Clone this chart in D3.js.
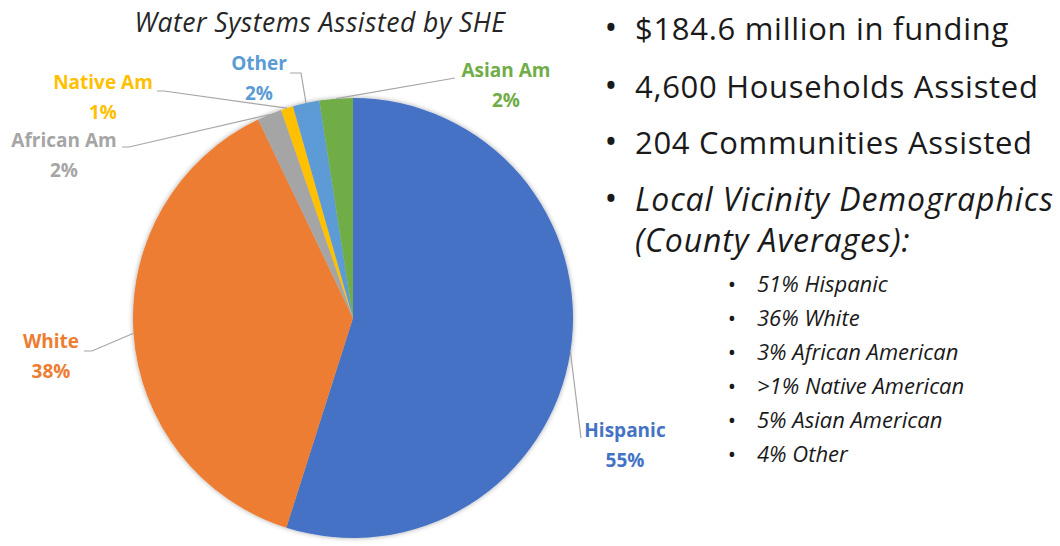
<!DOCTYPE html>
<html>
<head>
<meta charset="utf-8">
<script src="https://cdn.jsdelivr.net/npm/d3@7"></script>
<style>
  html, body { margin: 0; padding: 0; background: #fff; }
  svg { display: block; }
</style>
</head>
<body>
<div id="chart"></div>
<script>
// --- Data ---
const categories = ["Hispanic", "White", "African Am", "Native Am", "Other", "Asian Am"];
const shares = [54.9, 38.0, 1.8, 0.9, 1.95, 2.45]; // percent of water systems
const sliceColors = ["#4472C4", "#ED7D31", "#A5A5A5", "#FFC000", "#5B9BD5", "#70AD47"];

const title = "Water Systems Assisted by SHE";
const keyFacts = ["$184.6 million in funding", "4,600 Households Assisted", "204 Communities Assisted"];
const vicinityHeading = ["Local Vicinity Demographics", "(County Averages):"];
const countyDemographics = ["51% Hispanic", "36% White", "3% African American",
                            ">1% Native American", "5% Asian American", "4% Other"];

// --- Layout ---
const width = 1060, height = 546;
const cx = 353, cy = 318, radius = 220;
const font = "'Open Sans', Lato, sans-serif";

// where each data label sits (baseline of first line) and where its leader line starts
const labelLayout = {
  "Hispanic":   {x: 625, y: 437, pts: [[581, 438]]},
  "White":      {x: 51,  y: 348, pts: [[84, 351], [92, 351]]},
  "African Am": {x: 64,  y: 147, pts: [[122, 147], [129, 147]]},
  "Native Am":  {x: 103, y: 89,  pts: [[157, 91], [164, 91]]},
  "Other":      {x: 259, y: 70,  pts: [[290, 73], [301, 73]]},
  "Asian Am":   {x: 506, y: 77,  pts: [[455, 78]]}
};

const data = categories.map((c, i) => ({name: c, share: shares[i], color: sliceColors[i]}));

const svg = d3.select("#chart").append("svg")
    .attr("width", width)
    .attr("height", height);

// soft outer shadow like the original
const defs = svg.append("defs");
const f = defs.append("filter").attr("id", "shadow")
    .attr("x", "-10%").attr("y", "-10%").attr("width", "120%").attr("height", "120%");
f.append("feDropShadow").attr("dx", 0).attr("dy", 0).attr("stdDeviation", 2.5)
    .attr("flood-color", "#000").attr("flood-opacity", 0.35);

// title
svg.append("text")
    .attr("x", 320).attr("y", 32)
    .attr("text-anchor", "middle")
    .attr("font-family", font)
    .attr("font-style", "italic")
    .attr("font-size", "26.5px")
    .attr("letter-spacing", "0.5px")
    .attr("fill", "#262626")
    .text(title);

// pie
const pie = d3.pie().sort(null).value(d => d.share);
const arc = d3.arc().innerRadius(0).outerRadius(radius);
const edgeArc = d3.arc().innerRadius(radius).outerRadius(radius);
const arcs = pie(data);

const g = svg.append("g").attr("transform", `translate(${cx},${cy})`);
g.append("g").attr("filter", "url(#shadow)")
  .selectAll("path")
  .data(arcs)
  .enter().append("path")
    .attr("d", arc)
    .attr("fill", d => d.data.color);

// leader lines: from label to the middle of the slice's outer edge
arcs.forEach(d => {
    const lay = labelLayout[d.data.name];
    const c = edgeArc.centroid(d);
    const pts = lay.pts.concat([[c[0] + cx, c[1] + cy]]);
    svg.append("path")
        .attr("d", d3.line()(pts))
        .attr("fill", "none")
        .attr("stroke", "#A6A6A6")
        .attr("stroke-width", 1.2);
});

// data labels
arcs.forEach(d => {
    const lay = labelLayout[d.data.name];
    const t = svg.append("text")
        .attr("text-anchor", "middle")
        .attr("font-family", font)
        .attr("font-weight", "bold")
        .attr("font-size", "19px")
        .attr("fill", d.data.color);
    t.append("tspan").attr("x", lay.x).attr("y", lay.y).text(d.data.name);
    t.append("tspan").attr("x", lay.x).attr("y", lay.y + 30).text(Math.round(d.data.share) + "%");
});

// --- Right-hand bullet list ---
const bulletX = 611, textX = 635;
const mainBaselines = [40, 98, 154];

function bullet(x, y, size) {
    svg.append("text").attr("x", x).attr("y", y)
        .attr("text-anchor", "middle").attr("font-family", font)
        .attr("font-size", size).attr("fill", "#1a1a1a").text("\u2022");
}

keyFacts.forEach((s, i) => {
    bullet(bulletX, mainBaselines[i], "34px");
    svg.append("text").attr("x", textX).attr("y", mainBaselines[i])
        .attr("font-family", font).attr("font-size", "31px")
        .attr("letter-spacing", "0.7px")
        .attr("fill", "#1a1a1a").text(s);
});

bullet(bulletX, 211, "34px");
vicinityHeading.forEach((s, i) => {
    svg.append("text").attr("x", textX).attr("y", 211 + i * 41)
        .attr("font-family", font).attr("font-style", "italic")
        .attr("font-size", "32px").attr("letter-spacing", "0.9px")
        .attr("fill", "#1a1a1a").text(s);
});

// sub bullets
const subBulletX = 732, subTextX = 757;
countyDemographics.forEach((s, i) => {
    const y = 292 + i * 34;
    bullet(subBulletX, y, "22px");
    svg.append("text").attr("x", subTextX).attr("y", y)
        .attr("font-family", font).attr("font-style", "italic")
        .attr("font-size", "22px").attr("fill", "#1a1a1a").text(s);
});
</script>
</body>
</html>
